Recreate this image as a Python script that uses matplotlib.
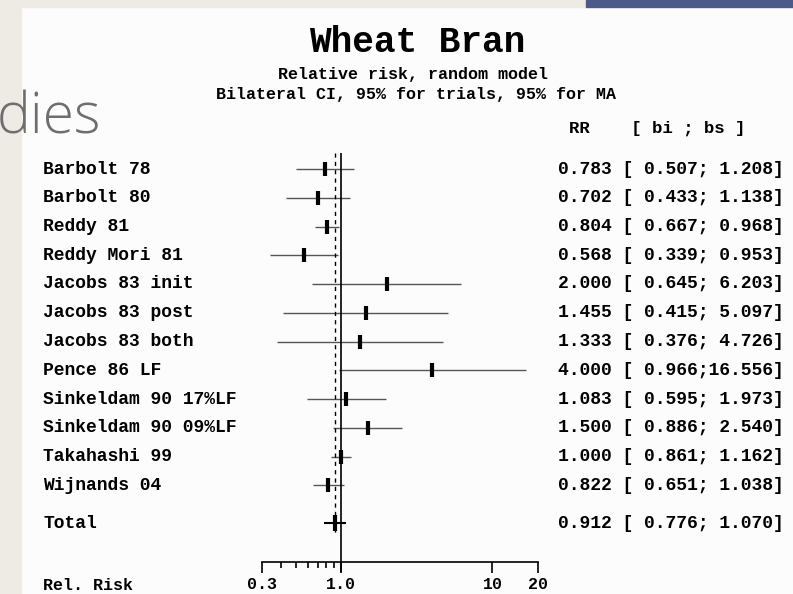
import numpy as np
import matplotlib
matplotlib.use('Agg')
import matplotlib.pyplot as plt
import matplotlib.transforms as mtransforms
from matplotlib.patches import Rectangle
from matplotlib.ticker import FixedLocator, NullFormatter

plt.rcParams['font.family'] = ['Liberation Mono', 'DejaVu Sans Mono']
plt.rcParams['font.weight'] = 'bold'

# data
studies = ['Barbolt 78', 'Barbolt 80', 'Reddy 81', 'Reddy Mori 81', 'Jacobs 83 init',
           'Jacobs 83 post', 'Jacobs 83 both', 'Pence 86 LF', 'Sinkeldam 90 17%LF',
           'Sinkeldam 90 09%LF', 'Takahashi 99', 'Wijnands 04']
rr = [0.783, 0.702, 0.804, 0.568, 2.000, 1.455, 1.333, 4.000, 1.083, 1.500, 1.000, 0.822]
lo = [0.507, 0.433, 0.667, 0.339, 0.645, 0.415, 0.376, 0.966, 0.595, 0.886, 0.861, 0.651]
hi = [1.208, 1.138, 0.968, 0.953, 6.203, 5.097, 4.726, 16.556, 1.973, 2.540, 1.162, 1.038]
total_rr, total_lo, total_hi = 0.912, 0.776, 1.070
xticks = [0.3, 1.0, 10, 20]
xtick_labels = ['0.3', '1.0', '10', '20']
minor_ticks = [0.4, 0.5, 0.6, 0.7, 0.8, 0.9]

W, H = 793, 594
def fx(px):
    return px / W
def fy(py):
    return 1 - py / H

fig = plt.figure(figsize=(W / 100, H / 100), dpi=100)
fig.patch.set_facecolor('#fcfcfc')

# slide decoration
fig.patches.append(Rectangle((0, 0), fx(21), 1, transform=fig.transFigure, color='#edebe3', zorder=0))
fig.patches.append(Rectangle((0, fy(7)), fx(586), 1 - fy(7), transform=fig.transFigure, color='#edebe3', zorder=0))
fig.patches.append(Rectangle((fx(586), fy(7)), 1 - fx(586), 1 - fy(7), transform=fig.transFigure,
                             color='#4c5a8a', zorder=0))
fig.text(fx(-3), fy(134), 'dies', fontsize=41, color='#6e6e6e', family=['Open Sans', 'DejaVu Sans'],
         fontweight='light', ha='left', va='baseline')

# forest axes: x log scale, y = row index
row0, step = 169, 28.75
ax = fig.add_axes([fx(262), 0, fx(538) - fx(262), 1])
ax.patch.set_alpha(0)
ax.set_xscale('log')
ax.set_xlim(0.3, 20)
ax.set_ylim((H - row0) / step, -row0 / step)

y = np.arange(len(studies))
y_total = (523 - row0) / step
y_axis = (562 - row0) / step

ax.hlines(y, lo, hi, color='#555555', lw=1)
ax.plot(rr, y, ls='none', marker='|', ms=10.5, mew=3, color='black')
ax.hlines(y_total, total_lo, total_hi, color='black', lw=1.5)
ax.plot([total_rr], [y_total], ls='none', marker='|', ms=12, mew=3, color='black')

ax.vlines(1.0, (153 - row0) / step, (572 - row0) / step, color='black', lw=1.2)
ax.vlines(total_rr, (153 - row0) / step, (535 - row0) / step, color='black', lw=1,
          linestyles=(0, (3, 3)))

for s in ['top', 'left', 'right']:
    ax.spines[s].set_visible(False)
ax.spines['bottom'].set_position(('data', y_axis))
ax.spines['bottom'].set_bounds(0.3, 20)
ax.spines['bottom'].set_linewidth(1.2)
ax.set_yticks([])
ax.xaxis.set_major_locator(FixedLocator(xticks))
ax.set_xticklabels(xtick_labels)
ax.xaxis.set_minor_locator(FixedLocator(minor_ticks))
ax.xaxis.set_minor_formatter(NullFormatter())
ax.tick_params(axis='x', which='major', length=8, width=1.2, direction='out', pad=3, labelsize=12)
ax.tick_params(axis='x', which='minor', length=4, width=1.2, direction='out')

# text columns
trans = mtransforms.blended_transform_factory(fig.transFigure, ax.transData)
for i, name in enumerate(studies):
    ax.text(fx(43), i, name, transform=trans, fontsize=13, va='center', ha='left', clip_on=False)
    ax.text(fx(558), i, '{:.3f} [{:6.3f};{:6.3f}]'.format(rr[i], lo[i], hi[i]), transform=trans,
            fontsize=13, va='center', ha='left', clip_on=False)
ax.text(fx(43), y_total, 'Total', transform=trans, fontsize=13, va='center', ha='left')
ax.text(fx(558), y_total, '{:.3f} [{:6.3f};{:6.3f}]'.format(total_rr, total_lo, total_hi),
        transform=trans, fontsize=13, va='center', ha='left')

fig.text(fx(43), fy(586), 'Rel. Risk', fontsize=12, va='center', ha='left')
fig.text(fx(417), fy(42), 'Wheat Bran', fontsize=26, va='center', ha='center')
fig.text(fx(413), fy(75), 'Relative risk, random model', fontsize=12, va='center', ha='center')
fig.text(fx(416), fy(94), 'Bilateral CI, 95% for trials, 95% for MA', fontsize=12, va='center', ha='center')
fig.text(fx(569), fy(128), 'RR    [ bi ; bs ]', fontsize=12.5, va='center', ha='left')

fig.savefig('out.png', dpi=100, facecolor=fig.get_facecolor())
